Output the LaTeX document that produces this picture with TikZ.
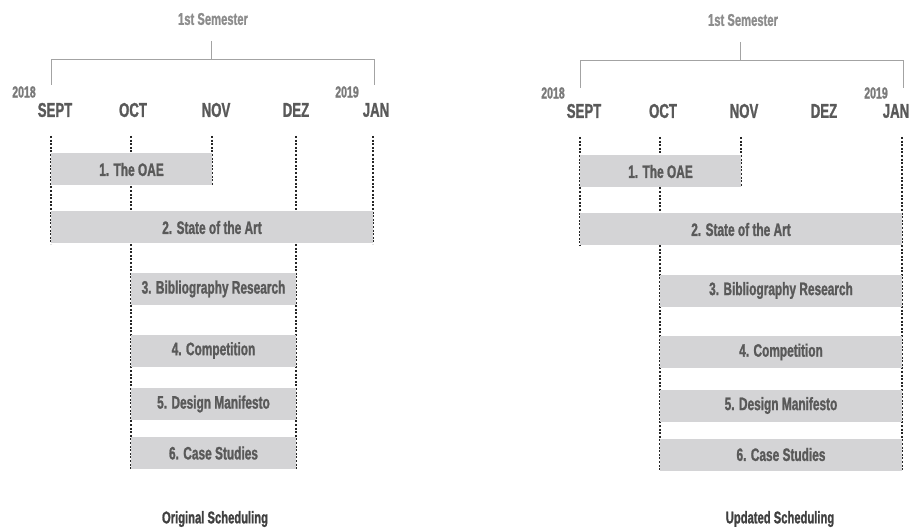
\documentclass[tikz,border=0pt]{standalone}
\usepackage{fontspec}
\setmainfont{Liberation Sans}[FakeStretch=0.66, BoldFeatures={FakeBold=1.2}]
\definecolor{barfill}{HTML}{D4D4D6}
\definecolor{ink}{HTML}{595959}
\definecolor{lightink}{HTML}{8C8C8C}
\tikzset{
  month/.style={font=\bfseries\fontsize{20}{20}\selectfont, text=ink, inner sep=0pt},
  year/.style={font=\bfseries\fontsize{16}{16}\selectfont, text=ink!80, inner sep=0pt},
  semester/.style={font=\bfseries\fontsize{17}{17}\selectfont, text=lightink, inner sep=0pt},
  task/.style={font=\bfseries\fontsize{18}{18}\selectfont, text=ink, fill=barfill,
    inner sep=0pt, minimum height=32pt},
  gridline/.style={line width=1.4pt, dash pattern=on 2pt off 1.6pt, black!85},
  bracket/.style={line width=1pt, lightink!80},
  caption/.style={font=\bfseries\fontsize{17}{17}\selectfont, text=black!75, inner sep=0pt}
}
\begin{document}
\begin{tikzpicture}[x=1pt, y=-1pt]
\useasboundingbox (0,0) rectangle (920,529);
\node[semester] (semA) at (213,19) {1st Semester};
\coordinate (stemA) at (211,41);
\coordinate (endA1) at (51,85);
\coordinate (endA2) at (374,85);
\draw[bracket] (stemA) -- (stemA |- 0,60);
\draw[bracket] (endA1) -- (endA1 |- 0,60) -- (endA2 |- 0,60) -- (endA2);
\node[year] (yA1) at (24,92) {2018};
\node[year] (yA2) at (347,92) {2019};
\foreach \m/\x in {SEPT/55,OCT/133,NOV/216,DEZ/296,JAN/376}
  \node[month] (mA\m) at (\x,110) {\m};
\foreach \x/\bot in {51/244,131/469,212/185,296/469,373/244}
  \draw[gridline] (\x,136) -- (\x,\bot);
\node[task, minimum width=161pt] (tA1) at (131.5,169.5) {1. The OAE};
\node[task, minimum width=322pt] (tA2) at (212,227.5) {2. State of the Art};
\node[task, minimum width=165pt] (tA3) at (213.5,289) {3. Bibliography Research};
\node[task, minimum width=165pt] (tA4) at (213.5,350.5) {4. Competition};
\node[task, minimum width=165pt] (tA5) at (213.5,404) {5. Design Manifesto};
\node[task, minimum width=165pt] (tA6) at (213.5,453) {6. Case Studies};
\node[caption] (capA) at (215,519) {Original Scheduling};

\node[semester] (semB) at (743,20) {1st Semester};
\coordinate (stemB) at (740,42);
\coordinate (endB1) at (580,88);
\coordinate (endB2) at (903,88);
\draw[bracket] (stemB) -- (stemB |- 0,61);
\draw[bracket] (endB1) -- (endB1 |- 0,61) -- (endB2 |- 0,61) -- (endB2);
\node[year] (yB1) at (553,93) {2018};
\node[year] (yB2) at (876,93) {2019};
\foreach \m/\x in {SEPT/584,OCT/663,NOV/744,DEZ/824,JAN/896}
  \node[month] (mB\m) at (\x,111) {\m};
\foreach \x/\bot in {580/246,660/471,741/187,902/471}
  \draw[gridline] (\x,137) -- (\x,\bot);
\node[task, minimum width=161pt] (tB1) at (660.5,171.5) {1. The OAE};
\node[task, minimum width=322pt] (tB2) at (741,229.5) {2. State of the Art};
\node[task, minimum width=242pt] (tB3) at (781,290.5) {3. Bibliography Research};
\node[task, minimum width=242pt] (tB4) at (781,352) {4. Competition};
\node[task, minimum width=242pt] (tB5) at (781,405.5) {5. Design Manifesto};
\node[task, minimum width=242pt] (tB6) at (781,454.5) {6. Case Studies};
\node[caption] (capB) at (780,519) {Updated Scheduling};
\end{tikzpicture}
\end{document}
